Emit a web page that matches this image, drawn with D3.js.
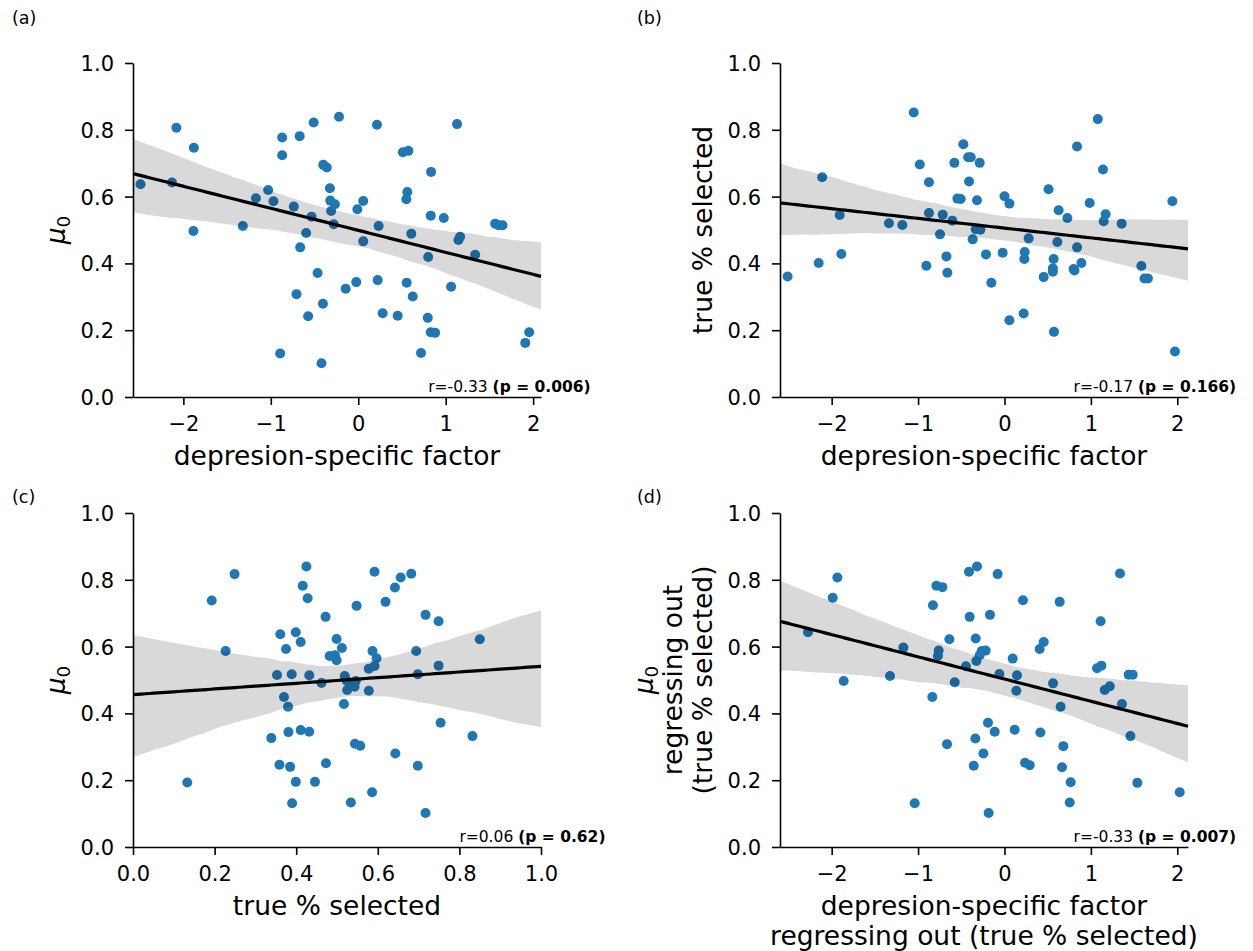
<!DOCTYPE html>
<html>
<head>
<meta charset="utf-8">
<script src="https://cdn.jsdelivr.net/npm/d3@7"></script>
<style>
body { margin: 0; background: #fff; }
text { font-family: "DejaVu Sans", sans-serif; fill: #000; }
</style>
</head>
<body>
<svg width="1253" height="951"></svg>
<script>
// (a) depression-specific factor vs mu0
const aX = [-2.49, -2.08, -2.13, -1.88, -1.885, -1.32, -1.17, -1.03, -0.97, -0.87, -0.87, -0.67, -0.51, -0.22, 0.214, 1.13,
  0.51, 0.573, -0.40, -0.36, 0.833, -0.324, -0.737, -0.32, -0.267, -0.31, -0.534, -0.28, -0.596, -0.664, -0.01, 0.057,
  0.057, 0.233, 0.561, 0.55, 0.829, 0.978, 0.607, 0.80, 1.146, 1.165, 1.337, 1.566, 1.604, 1.65, -0.465, -0.706,
  -0.404, -0.573, -0.144, -0.023, 0.222, 0.554, 0.623, 1.062, 0.279, 0.451, 0.795, 0.829, 0.879, 1.955, 1.91, -0.893,
  -0.42, 0.718];
const aY = [0.637, 0.806, 0.642, 0.746, 0.497, 0.512, 0.595, 0.620, 0.586, 0.777, 0.724, 0.781, 0.822, 0.839, 0.815, 0.817,
  0.733, 0.737, 0.695, 0.687, 0.674, 0.625, 0.570, 0.588, 0.577, 0.557, 0.540, 0.517, 0.491, 0.448, 0.562, 0.587,
  0.466, 0.512, 0.614, 0.592, 0.543, 0.536, 0.489, 0.419, 0.470, 0.480, 0.426, 0.519, 0.514, 0.514, 0.371, 0.308,
  0.279, 0.242, 0.324, 0.344, 0.350, 0.342, 0.301, 0.330, 0.251, 0.243, 0.237, 0.194, 0.192, 0.194, 0.162, 0.130,
  0.101, 0.132];

// (b) depression-specific factor vs true % selected
const bX = [-1.05, 1.08, 0.84, -0.476, -0.42, -0.39, -0.98, -0.58, -0.287, 1.14, -2.11, -0.874, -0.41, 0.51, -0.545, -0.507,
  -0.318, 0.0, 0.057, 0.986, 1.943, 0.627, 0.728, 1.171, 1.148, 1.356, -1.907, -1.337, -1.182, -0.874, -0.715, -0.603,
  -0.746, -0.333, -0.279, -0.368, 0.28, 0.612, 0.84, -1.888, -2.15, -2.51, -0.672, -0.214, -0.021, 0.234, 0.23,
  0.569, 0.56, 0.56, 0.89, 0.80, 0.81, 0.454, 1.584, 1.62, 1.66, -0.904, -0.661, -0.152, 0.057, 0.222, 0.573, 1.973];
const bY = [0.852, 0.832, 0.750, 0.757, 0.718, 0.718, 0.696, 0.701, 0.701, 0.681, 0.658, 0.643, 0.645, 0.622, 0.594, 0.593,
  0.589, 0.601, 0.579, 0.581, 0.586, 0.559, 0.536, 0.547, 0.526, 0.519, 0.545, 0.520, 0.515, 0.551, 0.546, 0.528,
  0.487, 0.502, 0.501, 0.472, 0.475, 0.464, 0.448, 0.428, 0.401, 0.361, 0.421, 0.427, 0.432, 0.434, 0.413,
  0.413, 0.385, 0.375, 0.401, 0.383, 0.379, 0.359, 0.392, 0.355, 0.355, 0.393, 0.372, 0.342, 0.230, 0.250, 0.195, 0.136];

// (c) true % selected vs mu0
const cX = [0.425, 0.249, 0.592, 0.656, 0.682, 0.416, 0.642, 0.428, 0.193, 0.619, 0.548, 0.717, 0.749, 0.472, 0.361, 0.399,
  0.411, 0.850, 0.375, 0.227, 0.499, 0.512, 0.482, 0.495, 0.499, 0.587, 0.597, 0.592, 0.578, 0.694, 0.749, 0.698,
  0.353, 0.389, 0.432, 0.462, 0.519, 0.524, 0.531, 0.546, 0.543, 0.525, 0.578, 0.370, 0.380, 0.517, 0.754, 0.832,
  0.339, 0.381, 0.411, 0.432, 0.544, 0.557, 0.643, 0.473, 0.359, 0.385, 0.698, 0.133, 0.399, 0.446, 0.586, 0.390,
  0.534, 0.717];
const cY = [0.840, 0.817, 0.824, 0.807, 0.818, 0.782, 0.777, 0.745, 0.738, 0.734, 0.722, 0.695, 0.676, 0.689, 0.637, 0.643,
  0.614, 0.622, 0.593, 0.587, 0.623, 0.596, 0.572, 0.574, 0.559, 0.587, 0.565, 0.542, 0.534, 0.587, 0.543, 0.517,
  0.515, 0.517, 0.514, 0.491, 0.512, 0.498, 0.490, 0.497, 0.480, 0.470, 0.468, 0.449, 0.420, 0.428, 0.372, 0.332,
  0.326, 0.344, 0.350, 0.345, 0.309, 0.303, 0.280, 0.251, 0.246, 0.240, 0.243, 0.193, 0.195, 0.195, 0.164, 0.131,
  0.133, 0.102];

// (d) residualised factor vs residualised mu0
const dX = [-0.318, -0.411, -0.079, 1.337, -1.934, -0.788, -0.719, -1.988, 0.214, 0.639, -0.828, -0.168, -0.403, 1.113,
  -2.274, -0.638, -0.333, 0.454, 0.407, -1.17, -0.762, -0.77, -0.264, -0.218, -0.287, -0.325, 0.095, -0.446, 1.071,
  1.121, 1.438, 1.484, -1.325, -0.059, 0.145, -1.861, -0.576, 0.562, 0.137, 1.160, 1.218, -0.835, 0.650, 1.36,
  -0.191, -0.113, 0.118, 0.415, -0.337, 1.457, -0.665, 0.681, -0.244, -0.356, 0.238, 0.292, 0.666, 0.766, 1.538,
  2.028, -1.039, 0.755, -0.183];
const dY = [0.840, 0.824, 0.817, 0.819, 0.807, 0.782, 0.778, 0.746, 0.739, 0.734, 0.724, 0.695, 0.689, 0.676,
  0.643, 0.622, 0.624, 0.614, 0.593, 0.597, 0.588, 0.572, 0.587, 0.588, 0.574, 0.557, 0.564, 0.541, 0.535,
  0.543, 0.516, 0.516, 0.512, 0.518, 0.514, 0.497, 0.493, 0.490, 0.468, 0.470, 0.481, 0.449, 0.420, 0.428,
  0.372, 0.345, 0.351, 0.343, 0.325, 0.332, 0.308, 0.302, 0.280, 0.243, 0.252, 0.245, 0.239, 0.194, 0.192,
  0.164, 0.131, 0.133, 0.102];

const yTicks = [0, 0.2, 0.4, 0.6, 0.8, 1.0];
const factorTicks = [-2, -1, 0, 1, 2];
const fracTicks = [0, 0.2, 0.4, 0.6, 0.8, 1.0];
const panelTags = ['(a)', '(b)', '(c)', '(d)'];
const statR = ['r=-0.33 ', 'r=-0.17 ', 'r=0.06 ', 'r=-0.33 '];
const statP = ['(p = 0.006)', '(p = 0.166)', '(p = 0.62)', '(p = 0.007)'];

const W = 408, H = 334;
const svg = d3.select('svg');

const panels = [
  {xs: aX, ys: aY, x0: 133, y0: 63, dom: [-2.576, 2.09], ticks: factorTicks, fmt: d3.format('d'),
   xlab: ['depresion-specific factor'], ylab: ['mu0']},
  {xs: bX, ys: bY, x0: 780, y0: 63, dom: [-2.598, 2.124], ticks: factorTicks, fmt: d3.format('d'),
   xlab: ['depresion-specific factor'], ylab: ['true % selected']},
  {xs: cX, ys: cY, x0: 133, y0: 513, dom: [0, 1], ticks: fracTicks, fmt: d3.format('.1f'),
   xlab: ['true % selected'], ylab: ['mu0']},
  {xs: dX, ys: dY, x0: 780, y0: 513, dom: [-2.598, 2.124], ticks: factorTicks, fmt: d3.format('d'),
   xlab: ['depresion-specific factor', 'regressing out (true % selected)'],
   ylab: ['mu0', 'regressing out', '(true % selected)']}
];

function ols(xs, ys) {
  const mx = d3.mean(xs), my = d3.mean(ys);
  let sxx = 0, sxy = 0;
  xs.forEach((x, i) => { sxx += (x - mx) ** 2; sxy += (x - mx) * (ys[i] - my); });
  const b = sxy / sxx;
  return [my - b * mx, b];
}

// fit + bootstrapped 95% band, the way seaborn's regplot does it (seeded, so it is repeatable)
function fit(xs, ys, grid) {
  const n = xs.length;
  const [a, b] = ols(xs, ys);
  const rnd = d3.randomInt.source(d3.randomLcg(0.42))(n);
  const boots = d3.range(1000).map(() => {
    const idx = d3.range(n).map(() => rnd());
    return ols(idx.map(i => xs[i]), idx.map(i => ys[i]));
  });
  return grid.map(g => {
    const yb = boots.map(([ba, bb]) => ba + bb * g).sort(d3.ascending);
    return {x: g, y: a + b * g, lo: d3.quantileSorted(yb, 0.025), hi: d3.quantileSorted(yb, 0.975)};
  });
}

function muLabel(sel) {
  sel.append('tspan').attr('font-style', 'italic').text('μ');
  sel.append('tspan').attr('font-size', 18.5).attr('dy', 5).text('0');
}

panels.forEach((p, k) => {
  const g = svg.append('g').attr('transform', `translate(${p.x0},${p.y0})`);
  const x = d3.scaleLinear().domain(p.dom).range([0, W]);
  const y = d3.scaleLinear().domain([0, 1]).range([H, 0]);

  // points
  g.append('g').selectAll('circle')
    .data(p.xs.map((v, i) => [v, p.ys[i]]))
    .join('circle')
    .attr('cx', d => x(d[0]))
    .attr('cy', d => y(d[1]))
    .attr('r', 5)
    .attr('fill', '#1f77b4');

  // regression band + line
  const grid = d3.range(101).map(i => p.dom[0] + (p.dom[1] - p.dom[0]) * i / 100);
  const fitted = fit(p.xs, p.ys, grid);
  g.append('path')
    .datum(fitted)
    .attr('fill', '#000')
    .attr('fill-opacity', 0.15)
    .attr('d', d3.area().x(d => x(d.x)).y0(d => y(d.lo)).y1(d => y(d.hi)));
  g.append('path')
    .datum(fitted)
    .attr('fill', 'none')
    .attr('stroke', '#000')
    .attr('stroke-width', 3.2)
    .attr('d', d3.line().x(d => x(d.x)).y(d => y(d.y)));

  // axes
  const xa = g.append('g').attr('transform', `translate(0,${H})`)
    .call(d3.axisBottom(x).tickValues(p.ticks).tickFormat(p.fmt).tickSize(8).tickSizeOuter(0));
  xa.selectAll('text').attr('y', 34).attr('dy', 0).attr('font-size', 21).style('font-family', 'DejaVu Sans');
  const ya = g.append('g')
    .call(d3.axisLeft(y).tickValues(yTicks).tickFormat(d3.format('.1f')).tickSize(8).tickSizeOuter(0));
  ya.selectAll('text').attr('x', -19).attr('dy', '0.36em').attr('font-size', 21).style('font-family', 'DejaVu Sans');
  g.selectAll('.domain, .tick line').attr('stroke', '#000').attr('stroke-width', 1.6);

  // x label
  p.xlab.forEach((t, i) => {
    g.append('text')
      .attr('x', W / 2).attr('y', H + 68 + i * 30)
      .attr('text-anchor', 'middle').attr('font-size', 26.5)
      .text(t);
  });

  // y label
  const nl = p.ylab.length;
  p.ylab.forEach((t, i) => {
    const bx = -68 - (nl - 1 - i) * 29.7;
    const tx = g.append('text')
      .attr('transform', `translate(${bx},${H / 2}) rotate(-90)`)
      .attr('text-anchor', 'middle').attr('font-size', 26.5);
    if (t === 'mu0') muLabel(tx); else tx.text(t);
  });

  // statistics
  const st = g.append('text')
    .attr('x', x(0.8)).attr('y', y(0.015))
    .attr('font-size', 15.5);
  st.append('tspan').text(statR[k]);
  st.append('tspan').attr('font-weight', 'bold').text(statP[k]);

  // panel tag
  svg.append('text')
    .attr('x', p.x0 < 400 ? 12 : 637)
    .attr('y', p.y0 < 400 ? 24 : 503)
    .attr('font-size', 17.5)
    .text(panelTags[k]);
});
</script>
</body>
</html>
